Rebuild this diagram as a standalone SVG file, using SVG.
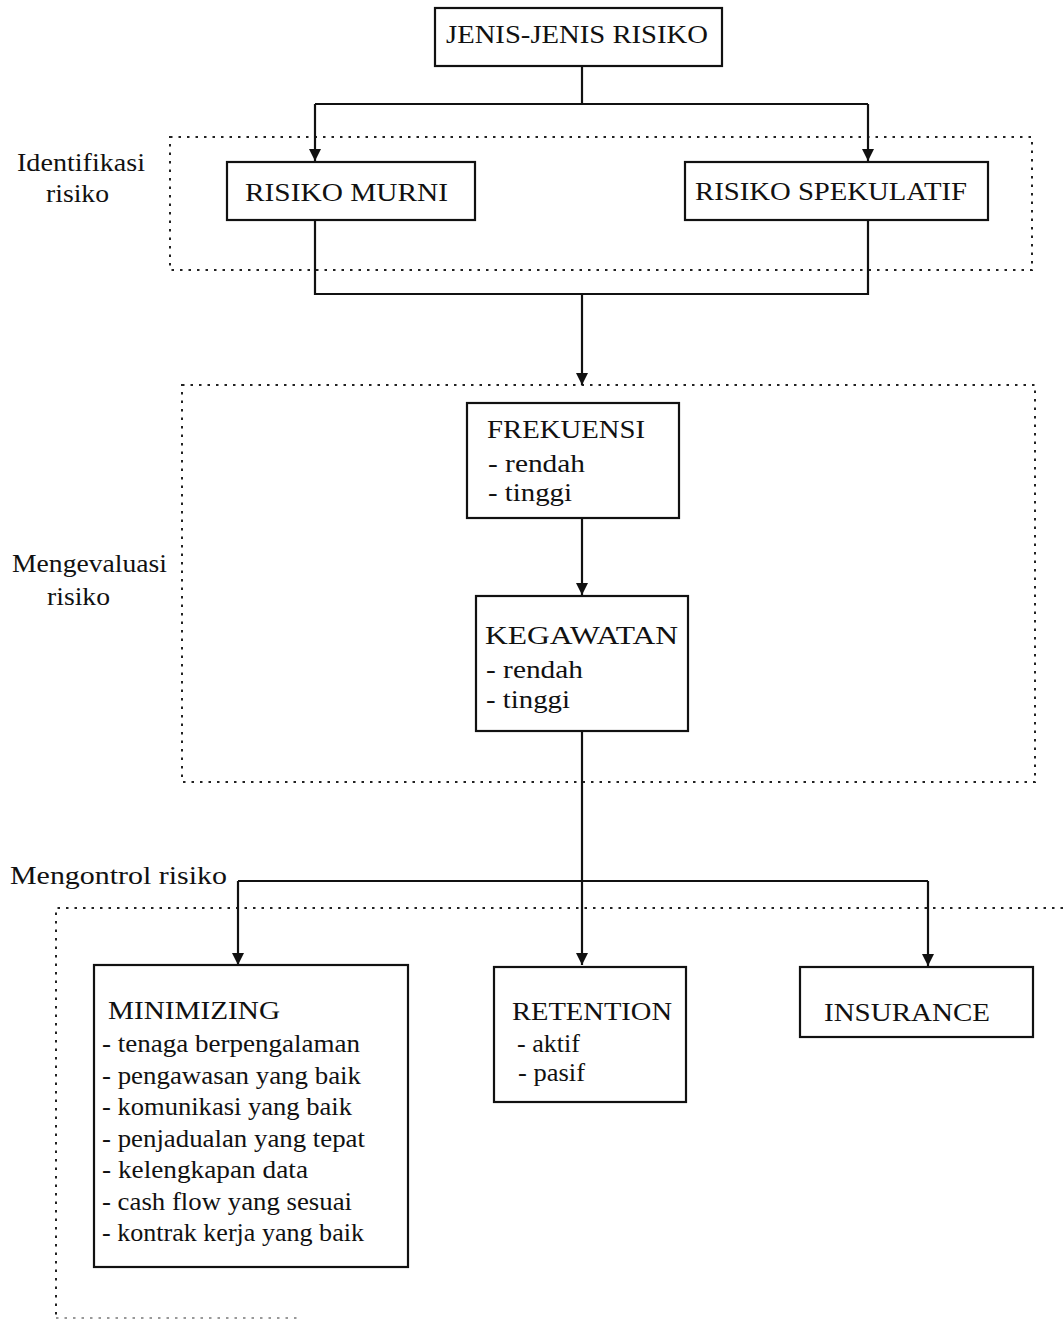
<svg xmlns="http://www.w3.org/2000/svg" width="1063" height="1325" viewBox="0 0 1063 1325">
<style>
text{font-family:"Liberation Serif","Times New Roman",serif;font-size:26px;fill:#111}
.box{fill:#fff;stroke:#111;stroke-width:2.2}
.dot{fill:none;stroke:#222;stroke-width:2;stroke-dasharray:2.5 6}
.ln{fill:none;stroke:#111;stroke-width:2.2}
</style>
<defs>
<marker id="arr" markerWidth="12" markerHeight="12" refX="12" refY="6" orient="auto" markerUnits="userSpaceOnUse">
<path d="M0,0 L12,6 L0,12 Z" fill="#111"/>
</marker>
</defs>
<rect width="1063" height="1325" fill="#fff"/>
<g id="regions">
<rect class="dot" x="170" y="137" width="862" height="133"/>
<rect class="dot" x="182" y="385" width="853" height="397"/>
<path class="dot" d="M1063,908 H56 V1317"/>
<path class="dot" d="M56,1318 H300" style="stroke:#999"/>
<text x="17" y="171" textLength="128" lengthAdjust="spacingAndGlyphs">Identifikasi</text>
<text x="46" y="202" textLength="63" lengthAdjust="spacingAndGlyphs">risiko</text>
<text x="12" y="572" textLength="155" lengthAdjust="spacingAndGlyphs">Mengevaluasi</text>
<text x="47" y="605" textLength="63" lengthAdjust="spacingAndGlyphs">risiko</text>
<text x="10" y="884" textLength="217" lengthAdjust="spacingAndGlyphs">Mengontrol risiko</text>
</g>
<g id="connectors">
<path class="ln" d="M582,66 V104"/>
<path class="ln" d="M315,104 H868"/>
<path class="ln" d="M315,104 V161" marker-end="url(#arr)"/>
<path class="ln" d="M868,104 V161" marker-end="url(#arr)"/>
<path class="ln" d="M315,220 V294 H868 V220"/>
<path class="ln" d="M582,294 V385" marker-end="url(#arr)"/>
<path class="ln" d="M582,518 V595" marker-end="url(#arr)"/>
<path class="ln" d="M582,731 V965" marker-end="url(#arr)"/>
<path class="ln" d="M238,881 H928"/>
<path class="ln" d="M238,881 V965" marker-end="url(#arr)"/>
<path class="ln" d="M928,881 V966" marker-end="url(#arr)"/>
</g>
<g id="jenis">
<rect class="box" x="435" y="8" width="287" height="58"/>
<text x="446" y="43" textLength="262" lengthAdjust="spacingAndGlyphs">JENIS-JENIS RISIKO</text>
</g>
<g id="murni">
<rect class="box" x="227" y="162" width="248" height="58"/>
<text x="245" y="201" textLength="203" lengthAdjust="spacingAndGlyphs">RISIKO MURNI</text>
</g>
<g id="spekulatif">
<rect class="box" x="685" y="162" width="303" height="58"/>
<text x="695" y="200" textLength="272" lengthAdjust="spacingAndGlyphs">RISIKO SPEKULATIF</text>
</g>
<g id="frekuensi">
<rect class="box" x="467" y="403" width="212" height="115"/>
<text x="487" y="438" textLength="158" lengthAdjust="spacingAndGlyphs">FREKUENSI</text>
<text x="488" y="472" textLength="97" lengthAdjust="spacingAndGlyphs">- rendah</text>
<text x="488" y="501" textLength="84" lengthAdjust="spacingAndGlyphs">- tinggi</text>
</g>
<g id="kegawatan">
<rect class="box" x="476" y="596" width="212" height="135"/>
<text x="485" y="644" textLength="193" lengthAdjust="spacingAndGlyphs">KEGAWATAN</text>
<text x="486" y="678" textLength="97" lengthAdjust="spacingAndGlyphs">- rendah</text>
<text x="486" y="708" textLength="84" lengthAdjust="spacingAndGlyphs">- tinggi</text>
</g>
<g id="minimizing">
<rect class="box" x="94" y="965" width="314" height="302"/>
<text x="108" y="1019" textLength="172" lengthAdjust="spacingAndGlyphs">MINIMIZING</text>
<text x="102" y="1052" textLength="258" lengthAdjust="spacingAndGlyphs">- tenaga berpengalaman</text>
<text x="102" y="1084" textLength="259" lengthAdjust="spacingAndGlyphs">- pengawasan yang baik</text>
<text x="102" y="1115" textLength="250" lengthAdjust="spacingAndGlyphs">- komunikasi yang baik</text>
<text x="102" y="1147" textLength="263" lengthAdjust="spacingAndGlyphs">- penjadualan yang tepat</text>
<text x="102" y="1178" textLength="206" lengthAdjust="spacingAndGlyphs">- kelengkapan data</text>
<text x="102" y="1210" textLength="250" lengthAdjust="spacingAndGlyphs">- cash flow yang sesuai</text>
<text x="102" y="1241" textLength="262" lengthAdjust="spacingAndGlyphs">- kontrak kerja yang baik</text>
</g>
<g id="retention">
<rect class="box" x="494" y="967" width="192" height="135"/>
<text x="512" y="1020" textLength="160" lengthAdjust="spacingAndGlyphs">RETENTION</text>
<text x="517" y="1052" textLength="63" lengthAdjust="spacingAndGlyphs">- aktif</text>
<text x="518" y="1081" textLength="67" lengthAdjust="spacingAndGlyphs">- pasif</text>
</g>
<g id="insurance">
<rect class="box" x="800" y="967" width="233" height="70"/>
<text x="824" y="1021" textLength="166" lengthAdjust="spacingAndGlyphs">INSURANCE</text>
</g>
</svg>
